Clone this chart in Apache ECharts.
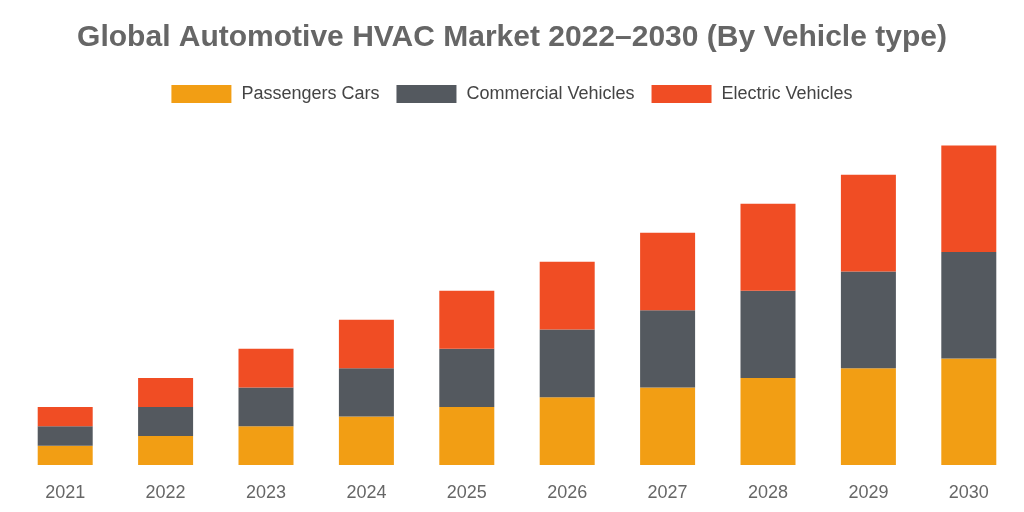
<!DOCTYPE html>
<html>
<head>
<meta charset="utf-8">
<script src="https://cdn.jsdelivr.net/npm/echarts@6/dist/echarts.min.js"></script>
<style>
  html, body { margin: 0; padding: 0; background: #fff; }
  #main { width: 1024px; height: 512px; }
</style>
</head>
<body>
<div id="main"></div>
<script>
// years on the x axis
var years = ['2021', '2022', '2023', '2024', '2025', '2026', '2027', '2028', '2029', '2030'];
// stacked segments (same unit for all)
var passengerCars = [2, 3, 4, 5, 6, 7, 8, 9, 10, 11];
var commercialVehicles = [2, 3, 4, 5, 6, 7, 8, 9, 10, 11];
var electricVehicles = [2, 3, 4, 5, 6, 7, 8, 9, 10, 11];

var myChart = echarts.init(document.getElementById('main'));
myChart.setOption({
  animation: false,
  title: {
    text: 'Global Automotive HVAC Market 2022\u20132030 (By Vehicle type)',
    left: 'center',
    top: 18,
    textStyle: {
      fontFamily: 'Liberation Sans',
      fontSize: 30,
      fontWeight: 'bold',
      color: '#666666'
    }
  },
  legend: {
    top: 80,
    left: 'center',
    itemWidth: 60,
    itemHeight: 18,
    itemGap: 17,
    icon: 'rect',
    textStyle: {
      fontFamily: 'Liberation Sans',
      fontSize: 18,
      color: '#444444',
      padding: [0, 0, 0, 5]
    },
    data: ['Passengers Cars', 'Commercial Vehicles', 'Electric Vehicles']
  },
  grid: { left: 15, right: 5, top: 145.6, bottom: 47 },
  xAxis: {
    type: 'category',
    data: years,
    axisLine: { show: false },
    axisTick: { show: false },
    axisLabel: {
      margin: 19,
      fontFamily: 'Liberation Sans',
      fontSize: 18,
      color: '#666666'
    }
  },
  yAxis: {
    type: 'value',
    min: 0,
    max: 33,
    show: false,
    splitLine: { show: false }
  },
  series: [
    { name: 'Passengers Cars', type: 'bar', stack: 'all', barWidth: 55,
      itemStyle: { color: '#F29E14' }, data: passengerCars },
    { name: 'Commercial Vehicles', type: 'bar', stack: 'all', barWidth: 55,
      itemStyle: { color: '#54595F' }, data: commercialVehicles },
    { name: 'Electric Vehicles', type: 'bar', stack: 'all', barWidth: 55,
      itemStyle: { color: '#F04D24' }, data: electricVehicles }
  ]
});
</script>
</body>
</html>
